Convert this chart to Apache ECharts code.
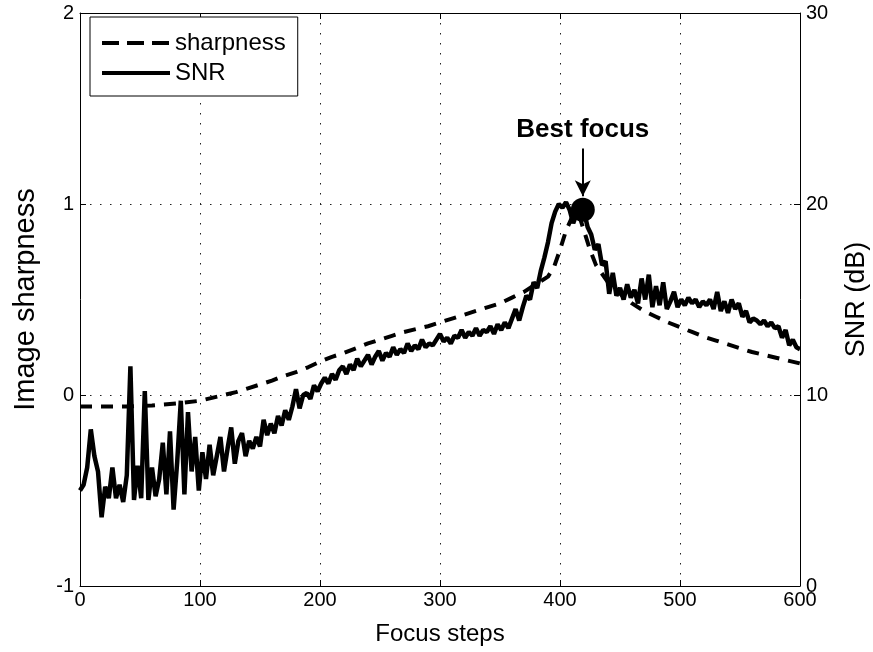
<!DOCTYPE html>
<html>
<head>
<meta charset="utf-8">
<script src="https://cdn.jsdelivr.net/npm/echarts@6/dist/echarts.min.js"></script>
<style>
  html, body { margin: 0; padding: 0; background: #fff; }
  #focus-chart { width: 873px; height: 652px; }
</style>
</head>
<body>
<div id="focus-chart"></div>
<script>
// image sharpness (left axis)
var sharpSteps = [0, 20, 40, 60, 80,
  100, 110, 120, 130, 140, 150, 160, 170, 180, 190,
  200, 210, 220, 230, 240, 250, 260, 270, 280, 290,
  300, 310, 320, 330, 340, 350, 360, 370, 380, 390,
  395, 400, 405, 410, 415, 420, 425, 430,
  440, 450, 460, 470, 480, 490, 500, 510, 520, 530, 540, 550, 560, 570, 580, 590, 600];
var sharpValues = [-0.06, -0.06, -0.06, -0.055, -0.045,
  -0.03, -0.015, 0.0, 0.015, 0.035, 0.055, 0.075, 0.1, 0.12, 0.145,
  0.175, 0.2, 0.22, 0.245, 0.27, 0.29, 0.31, 0.33, 0.345, 0.36,
  0.38, 0.40, 0.42, 0.44, 0.46, 0.48, 0.51, 0.54, 0.58, 0.62,
  0.67, 0.76, 0.86, 0.93, 0.96, 0.86, 0.76, 0.68,
  0.59, 0.53, 0.48, 0.44, 0.41, 0.38, 0.355, 0.33, 0.305, 0.285, 0.265, 0.245, 0.225, 0.21, 0.195, 0.18, 0.165];

// SNR in dB (right axis), one reading every 3 focus steps from 0 to 600
var snrStepSize = 3;
var snrDb = [
  5.0, 5.3, 6.2, 8.2, 6.8, 6.0, 3.6, 5.2, 4.6, 6.2,
  4.6, 5.3, 4.4, 5.8, 11.5, 4.5, 6.3, 4.6, 10.2, 4.5,
  6.2, 4.7, 5.6, 7.5, 4.8, 8.1, 4.0, 6.5, 9.7, 4.8,
  9.1, 6.0, 7.8, 5.0, 7.0, 5.6, 7.4, 5.8, 6.8, 7.8,
  6.0, 7.2, 8.3, 6.4, 7.6, 8.0, 6.8, 7.6, 7.2, 7.8,
  7.3, 8.7, 7.9, 8.5, 8.0, 8.9, 8.4, 9.2, 8.7, 9.4,
  10.3, 9.3, 10.0, 10.1, 9.8, 10.5, 10.2, 10.6, 10.9, 10.6,
  11.1, 10.8, 11.3, 11.5, 11.1, 11.6, 11.3, 11.9, 11.5, 11.8,
  12.1, 11.6, 12.0, 12.3, 11.8, 12.2, 12.0, 12.5, 12.1, 12.4,
  12.2, 12.7, 12.3, 12.6, 12.4, 12.9, 12.5, 12.7, 12.6, 12.9,
  13.2, 12.8, 13.0, 12.7, 13.1, 13.0, 13.4, 13.0, 13.3, 13.1,
  13.5, 13.1, 13.4, 13.3, 13.6, 13.2, 13.7, 13.4, 13.8, 13.5,
  14.0, 14.5, 13.9, 14.6, 15.2, 15.0, 15.9, 15.6, 16.5, 17.2,
  18.0, 19.0, 19.6, 20.0, 19.8, 20.1, 19.7, 19.0, 19.5, 19.7,
  19.6, 18.8, 18.4, 17.6, 17.9, 16.8, 17.0, 15.3, 16.4, 15.2,
  15.6, 15.0, 15.8, 15.1, 15.5, 14.8, 16.1, 15.0, 16.3, 14.6,
  15.7, 14.7, 15.9, 14.5, 14.9, 15.4, 14.6, 15.0, 14.7, 15.1,
  14.8, 15.0, 14.6, 14.9, 14.7, 15.0, 14.5, 15.4, 14.4, 14.9,
  14.3, 15.0, 14.5, 14.8, 14.1, 14.4, 13.8, 14.0, 13.9, 13.7,
  13.9, 13.6, 13.8, 13.5, 13.6, 13.0, 13.4, 12.6, 12.9, 12.5,
  12.4
];

// best focus marker (step, sharpness) and its arrow ends
var bestFocus = [419, 0.97];
var arrowFrom = [419, 1.29];
var arrowTo = [419, 1.04];

var xTicks = { min: 0, max: 600, interval: 100 };

var chartDom = document.getElementById('focus-chart');
var myChart = echarts.init(chartDom);

var sharpData = sharpSteps.map(function (s, i) { return [s, sharpValues[i]]; });
var snrData = snrDb.map(function (v, i) { return [i * snrStepSize, v]; });

var fontName = 'Liberation Sans';
var tickStyle = { show: true, inside: true, length: 6, lineStyle: { color: '#000', width: 1 } };
var lineStyleAxis = { show: true, onZero: false, lineStyle: { color: '#000', width: 1 } };
var gridDots = { show: true, lineStyle: { color: '#222', width: 1, type: [1.5, 8.5] } };

var option = {
  animation: false,
  textStyle: { fontFamily: fontName, color: '#000' },
  grid: { left: 80, right: 73, top: 13, bottom: 66, outerBoundsMode: 'none', containLabel: false },
  legend: {
    data: [
      { name: 'sharpness', lineStyle: { width: 4, type: [17, 8] } },
      { name: 'SNR', lineStyle: { width: 4 } }
    ],
    orient: 'vertical',
    left: 90,
    top: 17,
    padding: [14, 12, 11, 10],
    itemGap: 6,
    itemWidth: 68,
    itemHeight: 14,
    itemTextGap: 5,
    itemStyle: { opacity: 0 },
    borderColor: '#000',
    borderWidth: 1,
    backgroundColor: '#fff',
    textStyle: { fontSize: 24, color: '#000', fontFamily: fontName }
  },
  xAxis: [
    {
      type: 'value',
      min: xTicks.min, max: xTicks.max, interval: xTicks.interval,
      name: 'Focus steps',
      nameLocation: 'middle',
      nameGap: 36,
      nameTextStyle: { fontSize: 24, color: '#000', verticalAlign: 'top' },
      axisLine: lineStyleAxis,
      axisTick: tickStyle,
      axisLabel: { fontSize: 20, color: '#000', margin: 4 },
      splitLine: gridDots
    },
    {
      type: 'value',
      position: 'top',
      min: xTicks.min, max: xTicks.max, interval: xTicks.interval,
      axisLine: lineStyleAxis,
      axisTick: tickStyle,
      axisLabel: { show: false },
      splitLine: { show: false }
    }
  ],
  yAxis: [
    {
      type: 'value',
      min: -1, max: 2, interval: 1,
      name: 'Image sharpness',
      nameLocation: 'middle',
      nameGap: 40,
      nameTextStyle: { fontSize: 29, color: '#000' },
      axisLine: lineStyleAxis,
      axisTick: tickStyle,
      axisLabel: { fontSize: 20, color: '#000', margin: 6 },
      splitLine: gridDots
    },
    {
      type: 'value',
      min: 0, max: 30, interval: 10,
      name: 'SNR (dB)',
      nameLocation: 'middle',
      nameGap: 43,
      nameRotate: 90,
      nameTextStyle: { fontSize: 27, color: '#000' },
      axisLine: lineStyleAxis,
      axisTick: tickStyle,
      axisLabel: { fontSize: 20, color: '#000', margin: 6 },
      splitLine: { show: false }
    }
  ],
  series: [
    {
      name: 'sharpness',
      type: 'line',
      yAxisIndex: 0,
      data: sharpData,
      symbol: 'none',
      lineStyle: { color: '#000', width: 4, type: [12, 9] },
      itemStyle: { color: '#000' },
      z: 3,
      markLine: {
        silent: true,
        symbol: ['none', 'arrow'],
        symbolSize: [12, 16],
        lineStyle: { color: '#000', width: 2, type: 'solid' },
        label: {
          show: true,
          position: 'start',
          formatter: 'Best focus',
          fontSize: 26,
          fontWeight: 'bold',
          color: '#000',
          distance: 6
        },
        data: [[{ coord: arrowFrom }, { coord: arrowTo }]]
      }
    },
    {
      name: 'SNR',
      type: 'line',
      yAxisIndex: 1,
      data: snrData,
      symbol: 'none',
      lineStyle: { color: '#000', width: 4.5 },
      itemStyle: { color: '#000' },
      z: 4
    },
    {
      name: 'best',
      type: 'scatter',
      yAxisIndex: 0,
      data: [bestFocus],
      symbol: 'circle',
      symbolSize: 24,
      itemStyle: { color: '#000', opacity: 1 },
      z: 5
    }
  ]
};

option && myChart.setOption(option);
</script>
</body>
</html>
